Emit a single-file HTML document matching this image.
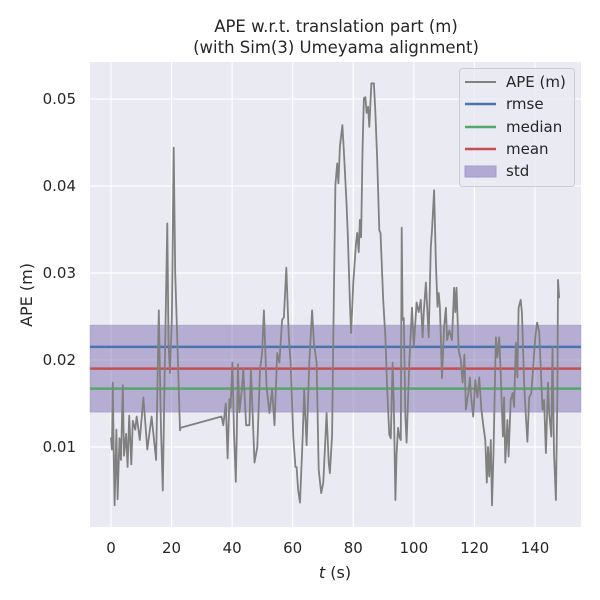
<!DOCTYPE html>
<html><head><meta charset="utf-8"><style>
body{margin:0;background:#fff;}
svg{display:block;font-family:"DejaVu Sans","Liberation Sans",sans-serif;}
</style></head><body>
<svg id="chart" width="600" height="600" viewBox="0 0 600 600">
<rect x="0" y="0" width="600" height="600" fill="#fff"/>
<rect x="90" y="62" width="491" height="465" fill="#eaeaf2"/>
<g id="grid"></g>
<g id="stats"></g>
<g id="series"></g>
<g id="ticks"></g>
<text x="336" y="32" text-anchor="middle" font-size="16.5" fill="#262626">APE w.r.t. translation part (m)</text>
<text x="336" y="53" text-anchor="middle" font-size="16.5" fill="#262626">(with Sim(3) Umeyama alignment)</text>
<text x="0" y="0" transform="translate(32,295) rotate(-90)" text-anchor="middle" font-size="16" fill="#262626">APE (m)</text>
<text x="335" y="578" text-anchor="middle" font-size="16" fill="#262626"><tspan font-style="italic">t</tspan> (s)</text>
<g>
<rect x="459.5" y="68.5" width="115" height="118" rx="3" fill="#eaeaf2" fill-opacity="0.8" stroke="#cccccc"/>
<line x1="465" y1="82" x2="496" y2="82" stroke="#808080" stroke-width="2"/>
<text x="506" y="87" font-size="15" fill="#262626">APE (m)</text>
<line x1="465" y1="104" x2="496" y2="104" stroke="#4c72b0" stroke-width="2.5"/>
<text x="506" y="109" font-size="15" fill="#262626">rmse</text>
<line x1="465" y1="127" x2="496" y2="127" stroke="#55a868" stroke-width="2.5"/>
<text x="506" y="132" font-size="15" fill="#262626">median</text>
<line x1="465" y1="149" x2="496" y2="149" stroke="#c44e52" stroke-width="2.5"/>
<text x="506" y="154" font-size="15" fill="#262626">mean</text>
<rect x="465" y="166" width="31" height="11" fill="#b2aad3" stroke="#a59bcb"/>
<text x="506" y="176" font-size="15" fill="#262626">std</text>
</g>
</svg>
<script>
const xTicks = [0,20,40,60,80,100,120,140];
const yTicks = [0.01,0.02,0.03,0.04,0.05];
const yTickLabels = ["0.01","0.02","0.03","0.04","0.05"];
const statNames = ["rmse","median","mean"];
const statValues = [0.0215,0.0167,0.0190];
const stdLow = 0.0140, stdHigh = 0.0240;
const times = [0,0.3,0.6,0.9,1.2,1.8,2.2,2.8,3.3,3.9,4.3,5,5.5,6,6.7,7.2,8,8.5,9.5,10.7,12.0,13.4,14.9,15.8,16.5,17.1,17.7,18.6,19.0,19.5,20.1,20.7,21.2,21.9,22.8,23.0,36.5,37.1,37.9,38.5,39.1,39.5,40.1,40.6,41.2,41.5,41.9,42.4,43.2,43.7,44.6,45.7,46.2,47.4,48.3,49.2,49.9,50.5,51.4,52.3,53.2,54.0,54.9,55.6,56.5,57.1,57.9,58.7,59.3,60.2,60.9,61.3,61.8,62.4,63.3,63.8,64.6,65.5,66.4,67.0,67.9,68.6,69.4,70.1,71.2,71.9,72.3,73.0,73.4,74.1,74.7,75.1,75.6,76.4,77.0,77.8,78.2,78.9,79.3,80.0,80.9,81.3,81.8,82.2,82.6,83.1,83.5,84.0,84.4,84.9,85.3,86.0,86.8,87.3,87.9,88.6,89.0,89.9,90.6,91.2,91.9,92.4,93.0,93.4,93.9,94.3,94.8,95.2,95.7,96.0,96.3,96.7,97.2,97.6,98.5,99.4,100.0,100.9,101.6,102.3,102.9,103.3,104.0,104.9,105.6,106.0,106.7,107.3,107.8,108.2,108.6,109.3,110.0,110.6,111.0,111.7,112.6,113.3,113.7,114.1,114.8,115.5,116.1,116.7,117.2,118.0,118.5,118.9,119.6,120.3,121.0,121.6,122.3,123.0,123.6,124.1,124.5,124.9,125.4,125.8,126.3,126.7,127.1,127.6,128.2,128.7,129.4,129.8,130.2,130.9,131.3,132.0,132.6,133.1,133.7,134.2,134.6,135.3,135.7,136.4,137.0,137.5,138.1,138.8,139.4,140.1,140.7,141.4,141.9,142.5,143.0,143.6,144.3,144.7,145.4,145.8,146.3,146.9,147.4,147.6,148.0];
const apeValues = [0.0111,0.0097,0.0174,0.0095,0.0033,0.012,0.004,0.011,0.0085,0.0171,0.009,0.0115,0.0077,0.0136,0.008,0.013,0.012,0.0135,0.0108,0.0157,0.0097,0.0135,0.0085,0.0257,0.012,0.005,0.018,0.0357,0.022,0.0185,0.025,0.0444,0.03,0.0223,0.0119,0.0122,0.0135,0.0125,0.015,0.0087,0.0155,0.0145,0.0197,0.012,0.006,0.011,0.0195,0.014,0.0165,0.019,0.0125,0.0125,0.019,0.0082,0.0100,0.0189,0.0208,0.0257,0.0169,0.0139,0.0166,0.0125,0.0208,0.0197,0.0246,0.0249,0.0306,0.0226,0.0197,0.0112,0.0077,0.0077,0.0051,0.0036,0.0112,0.0166,0.0102,0.0197,0.0257,0.0220,0.0197,0.0074,0.0047,0.0059,0.0139,0.0082,0.0070,0.0114,0.0226,0.0401,0.0426,0.0403,0.0445,0.0470,0.0433,0.0378,0.0344,0.0266,0.0231,0.0289,0.0334,0.0346,0.0324,0.0361,0.0341,0.0445,0.0501,0.0502,0.0484,0.0491,0.0468,0.0518,0.0518,0.0484,0.0430,0.0349,0.0346,0.0269,0.0226,0.0166,0.0114,0.0110,0.0197,0.0150,0.0039,0.0093,0.0122,0.0112,0.0108,0.0352,0.0246,0.0248,0.0135,0.0105,0.0197,0.0260,0.0215,0.0266,0.0255,0.0269,0.0226,0.0255,0.0289,0.0226,0.0330,0.0349,0.0395,0.0311,0.0261,0.0277,0.0261,0.0179,0.0238,0.0260,0.0223,0.0234,0.0223,0.0283,0.0255,0.0283,0.0211,0.0200,0.0174,0.0206,0.0143,0.0162,0.0180,0.0157,0.0135,0.0177,0.0157,0.0180,0.0143,0.0123,0.0108,0.0059,0.0100,0.0066,0.0108,0.0033,0.0093,0.0162,0.0226,0.0203,0.0226,0.0185,0.0112,0.0157,0.0082,0.0131,0.0089,0.0154,0.0162,0.0146,0.0220,0.0180,0.0260,0.0269,0.0255,0.0174,0.0135,0.0106,0.0157,0.0162,0.0192,0.0226,0.0243,0.0232,0.0192,0.0143,0.0154,0.0093,0.0174,0.0139,0.0112,0.0215,0.0093,0.0039,0.0162,0.0292,0.0271];

const X0=90,X1=581,Y0=62,Y1=527;
const xMin=-6.93,xMax=155.2,yMin=0.00080,yMax=0.05425;
function xs(t){return X0+(t-xMin)/(xMax-xMin)*(X1-X0);}
function ys(v){return Y1-(v-yMin)/(yMax-yMin)*(Y1-Y0);}
const NS='http://www.w3.org/2000/svg';
function mk(tag,attrs,parent){const e=document.createElementNS(NS,tag);for(const k in attrs)e.setAttribute(k,attrs[k]);parent.appendChild(e);return e;}
const grid=document.getElementById('grid'),ticks=document.getElementById('ticks');
xTicks.forEach(t=>{
  const l=mk('line',{x1:xs(t),x2:xs(t),y1:Y0,y2:Y1,stroke:'#fff','stroke-width':1.2},grid);
  
  
  const tx=mk('text',{x:xs(t),y:553,'text-anchor':'middle','font-size':15,fill:'#262626'},ticks);
  tx.textContent=String(t);
  
  
});
yTicks.forEach((v,i)=>{
  const l=mk('line',{x1:X0,x2:X1,y1:ys(v),y2:ys(v),stroke:'#fff','stroke-width':1.2},grid);
  
  
  const tx=mk('text',{x:76,y:ys(v)+5,'text-anchor':'end','font-size':15,fill:'#262626'},ticks);
  tx.textContent=yTickLabels[i];
  
  
});
const stats=document.getElementById('stats');
const band=mk('rect',{x:X0,y:ys(stdHigh),width:X1-X0,height:ys(stdLow)-ys(stdHigh),fill:'#8172b2','fill-opacity':0.5,stroke:'#8172b2','stroke-opacity':0.3},stats);


const cols={rmse:'#4c72b0',median:'#55a868',mean:'#c44e52'};
statNames.forEach((n,i)=>{
  const l=mk('line',{x1:X0,x2:X1,y1:ys(statValues[i]),y2:ys(statValues[i]),stroke:cols[n],'stroke-width':2.5},stats);
  
  
});
const d=times.map((t,i)=>(i?'L':'M')+xs(t).toFixed(1)+','+ys(apeValues[i]).toFixed(1)).join(' ');
const p=mk('path',{d:d,fill:'none',stroke:'#808080','stroke-width':1.8,'stroke-linejoin':'round'},document.getElementById('series'));


</script>
</body></html>
